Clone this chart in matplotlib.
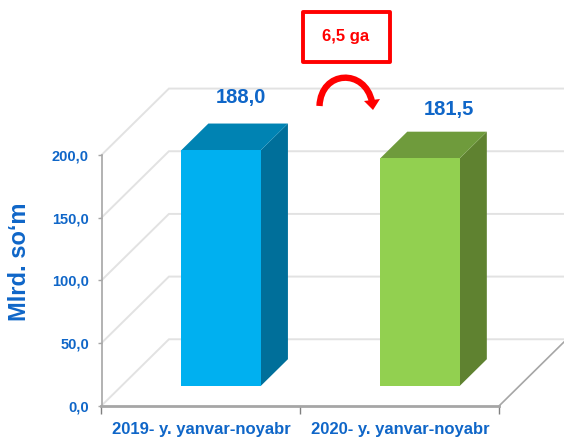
import matplotlib
matplotlib.use('Agg')
import matplotlib.pyplot as plt
from matplotlib.patches import Polygon, Rectangle, PathPatch
from matplotlib.path import Path
from matplotlib.transforms import Affine2D

# data
categories = ['2019- y. yanvar-noyabr', '2020- y. yanvar-noyabr']
values = [188.0, 181.5]
value_labels = ['188,0', '181,5']
y_ticks = [0, 50, 100, 150, 200]
y_tick_labels = ['0,0', '50,0', '100,0', '150,0', '200,0']
y_title = 'Mlrd. so\u2018m'
diff_label = '6,5 ga'

# colours
front_colors = ['#00B0F0', '#92D050']
side_colors = ['#006F9A', '#5F8230']
top_colors = ['#0083B3', '#6F9B3C']
text_blue = '#0F66C8'
grid_col = '#E2E2E2'
axis_col = '#A6A6A6'
font = 'Liberation Sans'

W, H = 564, 438
fig = plt.figure(figsize=(W / 100, H / 100), dpi=100)
ax = fig.add_axes([101.5 / W, (H - 405.7) / H, (499.3 - 101.5) / W, (405.7 - 155) / H])
ax.set_xlim(-0.5, 1.5)
ax.set_ylim(0, 200)
ax.patch.set_visible(False)

# pixel coords for the callout, measured from top left
px = Affine2D().scale(1, -1).translate(0, H)

DX, DY = 0.339, 53.0


def proj(x, v, d):
    # oblique projection: d=0 front of the chart, d=1 back wall
    return (x + d * DX, v + d * DY)


# back wall and left wall gridlines
for t in y_ticks:
    a = proj(-0.5, t, 0)
    b = proj(-0.5, t, 1)
    c = proj(2.0, t, 1)
    ax.plot([a[0], b[0], c[0]], [a[1], b[1], c[1]], color=grid_col, lw=1.4,
            clip_on=False, zorder=1, solid_joinstyle='miter')

# right floor edge
a = proj(1.5, 0, 0)
b = proj(1.5, 0, 1)
ax.plot([a[0], b[0]], [a[1], b[1]], color=axis_col, lw=1.2, clip_on=False, zorder=2)

# 3d bars
half = 0.2
d0, d1 = 0.30, 0.70
for i, v in enumerate(values):
    l, r = i - half, i + half
    front = [proj(l, 0, d0), proj(r, 0, d0), proj(r, v, d0), proj(l, v, d0)]
    side = [proj(r, 0, d0), proj(r, 0, d1), proj(r, v, d1), proj(r, v, d0)]
    top = [proj(l, v, d0), proj(r, v, d0), proj(r, v, d1), proj(l, v, d1)]
    ax.add_patch(Polygon(side, color=side_colors[i], lw=0, clip_on=False, zorder=3))
    ax.add_patch(Polygon(top, color=top_colors[i], lw=0, clip_on=False, zorder=3))
    ax.add_patch(Polygon(front, color=front_colors[i], lw=0, clip_on=False, zorder=4))

# axes
for s in ['top', 'right']:
    ax.spines[s].set_visible(False)
ax.spines['left'].set_color(axis_col)
ax.spines['left'].set_linewidth(1.2)
ax.spines['bottom'].set_color(axis_col)
ax.spines['bottom'].set_linewidth(2)
ax.set_yticks(y_ticks)
ax.set_yticklabels(y_tick_labels, family=font, fontweight='bold', fontsize=10.5, color=text_blue)
ax.tick_params(axis='y', length=3, width=1, color=axis_col, pad=6)
ax.set_xticks([0, 1])
ax.set_xticklabels(categories, family=font, fontweight='bold', fontsize=12, color=text_blue)
ax.set_xticks([-0.5, 0.5, 1.5], minor=True)
ax.tick_params(axis='x', which='major', length=0, pad=12)
ax.tick_params(axis='x', which='minor', length=6, width=1, color='#808080')
ax.set_ylabel(y_title, family=font, fontweight='bold', fontsize=17, color=text_blue)
ax.yaxis.set_label_coords(-0.178, 0.573)

# value labels
label_pos = [(240.5, 98), (448.8, 110)]
for (x, y), s in zip(label_pos, value_labels):
    fig.text(x / W, 1 - y / H, s, family=font, fontweight='bold', fontsize=14.5,
             color=text_blue, ha='center', va='center')

# callout box and arrow
fig.add_artist(Rectangle((302.5, 11.5), 87, 50, fill=False, ec='#FF0000', lw=2.8,
                         joinstyle='round', transform=px))
fig.text(345.5 / W, 1 - 37 / H, diff_label, family=font, fontweight='bold', fontsize=12,
         color='#FF0000', ha='center', va='center')
arc = Path([(319.5, 106), (321, 70), (365, 68), (372, 102)],
           [Path.MOVETO, Path.CURVE4, Path.CURVE4, Path.CURVE4])
fig.add_artist(PathPatch(arc, fill=False, ec='#FF0000', lw=4.6, capstyle='butt', transform=px))
fig.add_artist(Polygon([(364, 101), (380, 99), (373, 110)], color='#FF0000', lw=0, transform=px))

fig.savefig('out.png', dpi=100)
